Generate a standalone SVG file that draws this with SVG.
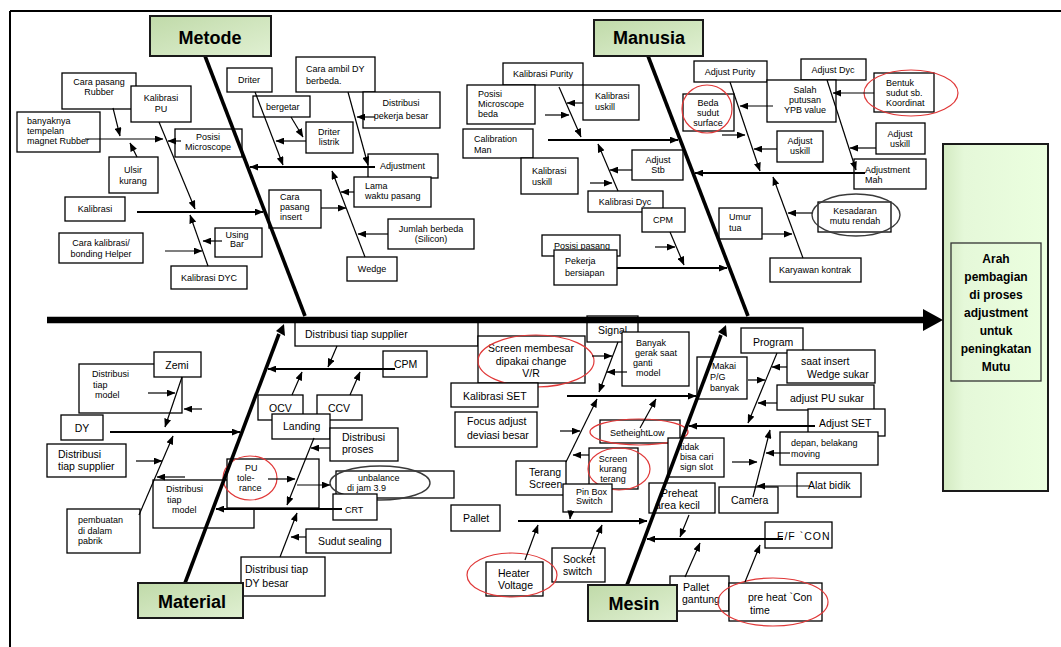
<svg xmlns="http://www.w3.org/2000/svg" width="1061" height="647" viewBox="0 0 1061 647">
<defs>
<linearGradient id="gCat" x1="0" y1="0" x2="1" y2="1">
<stop offset="0" stop-color="#c0daa9"/><stop offset="1" stop-color="#e0f0d2"/>
</linearGradient>
<linearGradient id="gRes" x1="0" y1="0" x2="1" y2="0">
<stop offset="0" stop-color="#d3eac1"/><stop offset="0.2" stop-color="#e5f8d9"/><stop offset="1" stop-color="#ebffdf"/>
</linearGradient>
<marker id="ah" viewBox="0 0 10 8" refX="9.5" refY="4" markerWidth="9" markerHeight="7" markerUnits="userSpaceOnUse" orient="auto"><path d="M0,0 L10,4 L0,8 z" fill="#000"/></marker>
<style>
.b{fill:#fff;stroke:#000;stroke-width:1.3}
.cat{fill:url(#gCat);stroke:#1a1a1a;stroke-width:2}
.t{font-family:"Liberation Sans",Arial,sans-serif;font-size:9px;fill:#000}
.m{font-size:10.5px}
.c{text-anchor:middle}
.ct{font-family:"Liberation Sans",Arial,sans-serif;font-weight:bold;font-size:18px;fill:#000;text-anchor:middle}
.rt{font-family:"Liberation Sans",Arial,sans-serif;font-weight:bold;font-size:12px;fill:#000;text-anchor:middle}
.ln{stroke:#000;stroke-width:1.2;fill:none;marker-end:url(#ah)}
.br{stroke-width:2.2}
.bone{stroke:#000;stroke-width:3.6;fill:none}
.red{fill:none;stroke:#e03838;stroke-width:1.2}
.gry{fill:none;stroke:#3a3a3a;stroke-width:1.4}
</style>
</defs>
<rect width="1061" height="647" fill="#fff"/>
<!-- frame -->
<path d="M10 11 H1061 M10 11 V647" stroke="#000" stroke-width="2" fill="none"/>

<!-- effect -->
<g id="effect">
<rect x="943" y="144" width="105" height="347" fill="url(#gRes)" stroke="#1a1a1a" stroke-width="2"/>
<rect x="951" y="243" width="90" height="138" fill="none" stroke="#333" stroke-width="1.3"/>
<text class="rt"><tspan x="996" y="263">Arah</tspan><tspan x="996" y="281">pembagian</tspan><tspan x="996" y="299">di proses</tspan><tspan x="996" y="317">adjustment</tspan><tspan x="996" y="335">untuk</tspan><tspan x="996" y="353">peningkatan</tspan><tspan x="996" y="371">Mutu</tspan></text>
</g>

<!-- Metode causes -->
<g id="m-cara-pasang-rubber"><rect class="b" x="62" y="73" width="74" height="36"/><text class="t c"><tspan x="99" y="85">Cara pasang</tspan><tspan x="99" y="95">Rubber</tspan></text></g>
<g id="m-kalibrasi-pu"><rect class="b" x="131" y="86" width="60" height="36"/><text class="t c"><tspan x="161" y="101">Kalibrasi</tspan><tspan x="161" y="112">PU</tspan></text></g>
<g id="m-banyaknya"><rect class="b" x="17" y="112" width="83" height="40"/><text class="t"><tspan x="27" y="124">banyaknya</tspan><tspan x="27" y="134">tempelan</tspan><tspan x="27" y="144">magnet Rubber</tspan></text></g>
<g id="m-posisi-microscope"><rect class="b" x="175" y="129" width="67" height="28"/><text class="t c"><tspan x="208" y="140">Posisi</tspan><tspan x="208" y="150">Microscope</tspan></text></g>
<g id="m-ulsir"><rect class="b" x="109" y="157" width="49" height="36"/><text class="t c"><tspan x="133" y="173">Ulsir</tspan><tspan x="133" y="184">kurang</tspan></text></g>
<g id="m-kalibrasi"><rect class="b" x="65" y="197" width="60" height="24"/><text class="t c" x="95" y="212">Kalibrasi</text></g>
<g id="m-cara-kalibrasi"><rect class="b" x="59" y="233" width="84" height="30"/><text class="t c"><tspan x="101" y="246">Cara kalibrasi/</tspan><tspan x="101" y="257">bonding Helper</tspan></text></g>
<g id="m-using-bar"><rect class="b" x="215" y="228" width="47" height="29"/><text class="t c" font-size="8"><tspan x="237" y="238">Using</tspan><tspan x="237" y="247">Bar</tspan></text></g>
<g id="m-kalibrasi-dyc"><rect class="b" x="171" y="266" width="76" height="23"/><text class="t c" x="209" y="281">Kalibrasi DYC</text></g>
<g id="m-driter"><rect class="b" x="227" y="68" width="45" height="24"/><text class="t c" x="249" y="83">Driter</text></g>
<g id="m-bergetar"><rect class="b" x="253" y="96" width="57" height="21"/><text class="t" x="266" y="110">bergetar</text></g>
<g id="m-cara-ambil"><rect class="b" x="296" y="57" width="79" height="35"/><text class="t"><tspan x="306" y="72">Cara ambil DY</tspan><tspan x="306" y="84">berbeda.</tspan></text></g>
<g id="m-distribusi-pekerja"><rect class="b" x="363" y="92" width="77" height="36"/><text class="t c"><tspan x="401" y="106">Distribusi</tspan><tspan x="401" y="119">pekerja besar</tspan></text></g>
<g id="m-driter-listrik"><rect class="b" x="306" y="122" width="47" height="31"/><text class="t c"><tspan x="329" y="135">Driter</tspan><tspan x="329" y="145">listrik</tspan></text></g>
<g id="m-adjustment"><rect class="b" x="368" y="154" width="70" height="24"/><text class="t" x="380" y="169" font-size="9.5">Adjustment</text></g>
<g id="m-lama"><rect class="b" x="354" y="177" width="77" height="30"/><text class="t"><tspan x="365" y="189">Lama</tspan><tspan x="365" y="199">waktu pasang</tspan></text></g>
<g id="m-cara-pasang-insert"><rect class="b" x="269" y="190" width="52" height="38"/><text class="t"><tspan x="280" y="200">Cara</tspan><tspan x="280" y="210">pasang</tspan><tspan x="280" y="220">insert</tspan></text></g>
<g id="m-jumlah"><rect class="b" x="388" y="219" width="86" height="30"/><text class="t c"><tspan x="431" y="232">Jumlah berbeda</tspan><tspan x="431" y="242">(Silicon)</tspan></text></g>
<g id="m-wedge"><rect class="b" x="347" y="257" width="50" height="24"/><text class="t c" x="372" y="272">Wedge</text></g>

<!-- Manusia causes -->
<g id="h-kalibrasi-purity"><rect class="b" x="503" y="63" width="80" height="22"/><text class="t c" x="543" y="77">Kalibrasi Purity</text></g>
<g id="h-posisi-microscope-beda"><rect class="b" x="467" y="85" width="68" height="39"/><text class="t"><tspan x="478" y="97">Posisi</tspan><tspan x="478" y="107">Microscope</tspan><tspan x="478" y="117">beda</tspan></text></g>
<g id="h-calibration-man"><rect class="b" x="463" y="129" width="70" height="29"/><text class="t" font-size="10"><tspan x="474" y="142">Calibration</tspan><tspan x="474" y="153">Man</tspan></text></g>
<g id="h-kalibrasi-uskill-1"><rect class="b" x="583" y="85" width="56" height="35"/><text class="t"><tspan x="595" y="99">Kalibrasi</tspan><tspan x="595" y="110">uskill</tspan></text></g>
<g id="h-kalibrasi-uskill-2"><rect class="b" x="521" y="158" width="57" height="36"/><text class="t"><tspan x="532" y="174">Kalibrasi</tspan><tspan x="532" y="185">uskill</tspan></text></g>
<g id="h-adjust-stb"><rect class="b" x="632" y="150" width="51" height="30"/><text class="t c"><tspan x="658" y="163">Adjust</tspan><tspan x="658" y="173">Stb</tspan></text></g>
<g id="h-kalibrasi-dyc"><rect class="b" x="588" y="191" width="75" height="21"/><text class="t c" x="625" y="205">Kalibrasi Dyc</text></g>
<g id="h-cpm"><rect class="b" x="642" y="208" width="43" height="24"/><text class="t c" x="663" y="223">CPM</text></g>
<g id="h-umur-tua"><rect class="b" x="719" y="208" width="43" height="31"/><text class="t"><tspan x="729" y="220">Umur</tspan><tspan x="729" y="231">tua</tspan></text></g>
<g id="h-adjust-purity"><rect class="b" x="694" y="61" width="73" height="21"/><text class="t c" x="730" y="75">Adjust Purity</text></g>
<g id="h-beda-sudut"><rect class="b" x="683" y="94" width="51" height="37"/><text class="t c" font-size="8.5"><tspan x="708" y="106">Beda</tspan><tspan x="708" y="116">sudut</tspan><tspan x="708" y="126">surface</tspan></text><ellipse class="red" cx="707" cy="109" rx="25" ry="24"/></g>
<g id="h-adjust-dyc"><rect class="b" x="801" y="59" width="65" height="21"/><text class="t c" x="833" y="73">Adjust Dyc</text></g>
<g id="h-salah-putusan"><rect class="b" x="767" y="80" width="69" height="42"/><text class="t c"><tspan x="805" y="93">Salah</tspan><tspan x="805" y="103">putusan</tspan><tspan x="805" y="113">YPB value</tspan></text></g>
<g id="h-bentuk"><rect class="b" x="874" y="73" width="60" height="39"/><text class="t"><tspan x="886" y="86">Bentuk</tspan><tspan x="886" y="96">sudut sb.</tspan><tspan x="886" y="106">Koordinat</tspan></text><ellipse class="red" cx="911" cy="93" rx="47" ry="23"/></g>
<g id="h-adjust-uskill-r"><rect class="b" x="876" y="123" width="49" height="31"/><text class="t c"><tspan x="900" y="137">Adjust</tspan><tspan x="900" y="147">uskill</tspan></text></g>
<g id="h-adjust-uskill-m"><rect class="b" x="777" y="131" width="46" height="31"/><text class="t c"><tspan x="800" y="144">Adjust</tspan><tspan x="800" y="154">uskill</tspan></text></g>
<g id="h-adjustment-mah"><rect class="b" x="854" y="159" width="72" height="30"/><text class="t"><tspan x="865" y="173">Adjustment</tspan><tspan x="865" y="183">Mah</tspan></text></g>
<g id="h-kesadaran"><rect class="b" x="818" y="202" width="73" height="30"/><ellipse class="gry" cx="856" cy="215" rx="44" ry="21"/><text class="t c" font-size="8.5"><tspan x="855" y="214">Kesadaran</tspan><tspan x="855" y="224">mutu rendah</tspan></text></g>
<g id="h-karyawan"><rect class="b" x="770" y="258" width="91" height="24"/><text class="t c" x="815" y="273">Karyawan kontrak</text></g>
<g id="h-posisi-pasang"><rect class="b" x="542" y="235" width="78" height="21"/><text class="t" x="554" y="249">Posisi pasang</text></g>
<g id="h-pekerja"><rect class="b" x="554" y="250" width="63" height="35"/><text class="t"><tspan x="565" y="264">Pekerja</tspan><tspan x="565" y="276">bersiapan</tspan></text></g>

<!-- Material causes -->
<g id="t-distribusi-supplier"><rect class="b" x="295" y="321" width="183" height="25"/><text class="t m" x="305" y="338">Distribusi tiap supplier</text></g>
<g id="t-cpm"><rect class="b" x="383" y="351" width="44" height="26"/><text class="t m" x="394" y="368">CPM</text></g>
<g id="t-ocv"><rect class="b" x="258" y="395" width="45" height="25"/><text class="t m" x="269" y="412">OCV</text></g>
<g id="t-ccv"><rect class="b" x="317" y="395" width="45" height="25"/><text class="t m c" x="339" y="412">CCV</text></g>
<g id="t-landing"><rect class="b" x="272" y="414" width="58" height="25"/><text class="t m" x="283" y="430">Landing</text></g>
<g id="t-distribusi-proses"><rect class="b" x="330" y="428" width="68" height="33"/><text class="t m"><tspan x="342" y="441">Distribusi</tspan><tspan x="342" y="453">proses</tspan></text></g>
<g id="t-distribusi-model-1"><rect class="b" x="79" y="364" width="103" height="49"/><text class="t" font-size="10"><tspan x="92" y="377">Distribusi</tspan><tspan x="93" y="387.5">tiap</tspan><tspan x="95" y="398">model</tspan></text></g>
<g id="t-zemi"><rect class="b" x="154" y="352" width="47" height="25"/><text class="t m c" x="177" y="369">Zemi</text></g>
<g id="t-dy"><rect class="b" x="61" y="415" width="42" height="25"/><text class="t m c" x="82" y="432">DY</text></g>
<g id="t-distribusi-supplier-2"><rect class="b" x="47" y="444" width="79" height="33"/><text class="t m"><tspan x="58" y="458">Distribusi</tspan><tspan x="58" y="470">tiap supplier</tspan></text></g>
<g id="t-pembuatan"><rect class="b" x="67" y="509" width="73" height="44"/><text class="t" font-size="10"><tspan x="78" y="523">pembuatan</tspan><tspan x="78" y="533.5">di dalam</tspan><tspan x="78" y="544">pabrik</tspan></text></g>
<g id="t-distribusi-model-2"><rect class="b" x="153" y="480" width="101" height="48"/><text class="t" font-size="10"><tspan x="166" y="492">Distribusi</tspan><tspan x="167" y="502.5">tiap</tspan><tspan x="172" y="513">model</tspan></text></g>
<g id="t-pu-tolerance"><rect class="b" x="227" y="459" width="92" height="49"/><text class="t" font-size="10"><tspan x="245" y="471">PU</tspan><tspan x="237" y="481">tole-</tspan><tspan x="239" y="491">rance</tspan></text><ellipse class="red" cx="250" cy="478" rx="27" ry="22"/></g>
<g id="t-unbalance"><rect class="b" x="336" y="471" width="118" height="27"/><ellipse class="gry" cx="380" cy="483" rx="50" ry="17"/><text class="t" font-size="10"><tspan x="358" y="481">unbalance</tspan><tspan x="347" y="491">di jam  3.9</tspan></text></g>
<g id="t-crt"><rect class="b" x="333" y="494" width="44" height="26"/><text class="t" font-size="12" x="345" y="513">CRT</text></g>
<g id="t-sudut-sealing"><rect class="b" x="306" y="529" width="85" height="24"/><text class="t m" x="318" y="545">Sudut sealing</text></g>
<g id="t-distribusi-dy-besar"><rect class="b" x="241" y="557" width="84" height="39"/><text class="t m"><tspan x="245" y="573">Distribusi tiap</tspan><tspan x="245" y="587">DY besar</tspan></text></g>

<!-- Mesin causes -->
<g id="s-screen-membesar"><rect class="b" x="478" y="336" width="107" height="47"/><text class="t m c"><tspan x="531" y="352">Screen membesar</tspan><tspan x="531" y="364.5">dipakai change</tspan><tspan x="531" y="377">V/R</tspan></text><ellipse class="red" cx="536" cy="361" rx="58" ry="26"/></g>
<g id="s-signal"><rect class="b" x="587" y="316" width="51" height="26"/><text class="t m" x="598" y="334">Signal</text></g>
<g id="s-banyak"><rect class="b" x="622" y="332" width="67" height="54"/><text class="t"><tspan x="636" y="346">Banyak</tspan><tspan x="635" y="356">gerak saat</tspan><tspan x="633" y="366">ganti</tspan><tspan x="636" y="376">model</tspan></text></g>
<g id="s-kalibrasi-set"><rect class="b" x="451" y="383" width="87" height="24"/><text class="t m" x="463" y="400">Kalibrasi SET</text></g>
<g id="s-focus"><rect class="b" x="455" y="412" width="82" height="35"/><text class="t m"><tspan x="467" y="425">Focus adjust</tspan><tspan x="467" y="439">deviasi besar</tspan></text></g>
<g id="s-setheight"><rect class="b" x="600" y="420" width="80" height="23"/><text class="t" x="610" y="436">SetheightLow</text><ellipse class="red" cx="639" cy="432" rx="49" ry="13"/></g>
<g id="s-tidak"><rect class="b" x="668" y="438" width="56" height="39"/><text class="t"><tspan x="680" y="450">tidak</tspan><tspan x="680" y="460">bisa cari</tspan><tspan x="680" y="470">sign slot</tspan></text></g>
<g id="s-terang"><rect class="b" x="516" y="461" width="50" height="34"/><text class="t m"><tspan x="529" y="476">Terang</tspan><tspan x="529" y="488">Screen</tspan></text></g>
<g id="s-screen-kurang"><rect class="b" x="589" y="448" width="49" height="41"/><text class="t c" font-size="8"><tspan x="613" y="462">Screen</tspan><tspan x="613" y="472">kurang</tspan><tspan x="613" y="482">terang</tspan></text><ellipse class="red" cx="619" cy="469" rx="31" ry="21"/></g>
<g id="s-pin-box"><rect class="b" x="563" y="484" width="49" height="28"/><text class="t" font-size="8"><tspan x="576" y="495">Pin Box</tspan><tspan x="576" y="504">Switch</tspan></text></g>
<g id="s-preheat"><rect class="b" x="649" y="483" width="66" height="30"/><text class="t m"><tspan x="661" y="497">Preheat</tspan><tspan x="655" y="509">area kecil</tspan></text></g>
<g id="s-camera"><rect class="b" x="719" y="487" width="59" height="26"/><text class="t m" x="731" y="504">Camera</text></g>
<g id="s-pallet"><rect class="b" x="451" y="505" width="49" height="26"/><text class="t m" x="463" y="522">Pallet</text></g>
<g id="s-socket"><rect class="b" x="552" y="548" width="53" height="34"/><text class="t m"><tspan x="563" y="563">Socket</tspan><tspan x="563" y="575">switch</tspan></text></g>
<g id="s-heater"><rect class="b" x="486" y="562" width="57" height="34"/><text class="t m"><tspan x="498" y="577">Heater</tspan><tspan x="498" y="589">Voltage</tspan></text><ellipse class="red" cx="512" cy="575" rx="45" ry="22"/></g>
<g id="s-pallet-gantung"><rect class="b" x="670" y="576" width="59" height="35"/><text class="t m"><tspan x="683" y="591">Pallet</tspan><tspan x="682" y="603">gantung</tspan></text></g>
<g id="s-pre-heat-con"><rect class="b" x="729" y="583" width="93" height="38"/><text class="t m"><tspan x="748" y="601">pre heat `Con</tspan><tspan x="750" y="614">time</tspan></text><ellipse class="red" cx="773" cy="602" rx="55" ry="24"/></g>
<g id="s-ff-con"><rect class="b" x="765" y="522" width="67" height="26"/><text class="t m" x="777" y="540" letter-spacing="1">F/F `CON</text></g>
<g id="s-program"><rect class="b" x="741" y="328" width="62" height="25"/><text class="t m" x="753" y="346">Program</text></g>
<g id="s-makai"><rect class="b" x="697" y="357" width="50" height="42"/><text class="t" font-size="10"><tspan x="712" y="369">Makai</tspan><tspan x="710" y="380">P/G</tspan><tspan x="710" y="391">banyak</tspan></text></g>
<g id="s-saat-insert"><rect class="b" x="787" y="350" width="88" height="33"/><text class="t m"><tspan x="801" y="365">saat insert</tspan><tspan x="807" y="377.5">Wedge sukar</tspan></text></g>
<g id="s-adjust-pu"><rect class="b" x="777" y="385" width="97" height="25"/><text class="t m" x="790" y="402">adjust PU sukar</text></g>
<g id="s-adjust-set"><rect class="b" x="808" y="409" width="77" height="27"/><text class="t m" x="819" y="427">Adjust SET</text></g>
<g id="s-depan"><rect class="b" x="780" y="432" width="98" height="33"/><text class="t" font-size="10"><tspan x="791" y="446">depan, belakang</tspan><tspan x="791" y="457">moving</tspan></text></g>
<g id="s-alat-bidik"><rect class="b" x="797" y="473" width="64" height="24"/><text class="t m" x="808" y="489">Alat bidik</text></g>

<!-- spine and category bones -->
<g id="spine">
<path d="M47 320 H925" stroke="#000" stroke-width="6.5"/>
<polygon points="923,309 943,320 923,331" fill="#000"/>
<path class="bone" d="M205 56 L305 316"/>
<path class="bone" d="M648 56 L748 316"/>
<path class="bone" d="M185 583 L279 334"/>
<polygon points="276,331 284,324 285,336" fill="#000"/>
<path class="bone" d="M627 585 L721 335"/>
<polygon points="718,332 726,325 727,337" fill="#000"/>
</g>

<!-- categories -->
<g id="cat-metode"><rect class="cat" x="150" y="16" width="121" height="40"/><text class="ct" x="210" y="44" font-size="20">Metode</text></g>
<g id="cat-manusia"><rect class="cat" x="594" y="20" width="109" height="36"/><text class="ct" x="649" y="44">Manusia</text></g>
<g id="cat-material"><rect class="cat" x="138" y="583" width="105" height="35"/><text class="ct" x="192" y="608">Material</text></g>
<g id="cat-mesin"><rect class="cat" x="588" y="585" width="89" height="36"/><text class="ct" x="634" y="610">Mesin</text></g>

<!-- connectors -->
<g id="connectors">
<!-- Metode -->
<path class="ln br" d="M375 167 H250"/>
<path class="ln" d="M255 92 L283 165"/>
<path class="ln" d="M291 117 L303 137"/>
<path class="ln" d="M306 141 H276"/>
<path class="ln" d="M348 92 L368 165"/>
<path class="ln" d="M375 117 H357"/>
<path class="ln" d="M365 257 L332 171"/>
<path class="ln" d="M354 192 H341"/>
<path class="ln" d="M388 234 H358"/>
<path class="ln" d="M321 208 H346"/>
<path class="ln br" d="M137 212 H263"/>
<path class="ln" d="M159 122 L195 209"/>
<path class="ln" d="M85 139 H163"/>
<path class="ln" d="M181 141 H168"/>
<path class="ln" d="M113 108 L120 136"/>
<path class="ln" d="M137 157 L130 143"/>
<path class="ln" d="M208 266 L190 215"/>
<path class="ln" d="M165 251 H202"/>
<path class="ln" d="M222 241 H203"/>
<!-- Manusia -->
<path class="ln" d="M559 87 L581 137"/>
<path class="ln br" d="M548 140 H678"/>
<path class="ln" d="M583 103 H567"/>
<path class="ln" d="M545 115 H569"/>
<path class="ln" d="M618 191 L598 144"/>
<path class="ln" d="M590 183 H612"/>
<path class="ln" d="M632 170 H610"/>
<path class="ln" d="M730 82 L760 171"/>
<path class="ln br" d="M865 173 H695"/>
<path class="ln" d="M722 135 H745"/>
<path class="ln" d="M773 106 H740"/>
<path class="ln" d="M777 149 H754"/>
<path class="ln" d="M827 80 L856 170"/>
<path class="ln" d="M874 93 H833"/>
<path class="ln" d="M876 148 H850"/>
<path class="ln" d="M803 258 L773 177"/>
<path class="ln" d="M812 213 H788"/>
<path class="ln" d="M762 234 H792"/>
<path class="ln br" d="M617 268 H727"/>
<path class="ln" d="M670 232 L684 265"/>
<path class="ln" d="M655 247 H675"/>
<!-- Material -->
<path class="ln br" d="M395 369 H268"/>
<path class="ln" d="M337 346 L328 367"/>
<path class="ln" d="M292 395 L302 372"/>
<path class="ln" d="M350 395 L360 372"/>
<path class="ln br" d="M342 509 H216"/>
<path class="ln" d="M314 438 L287 505"/>
<path class="ln" d="M330 448 H311"/>
<path class="ln" d="M268 479 H295"/>
<path class="ln" d="M297 485 H330"/>
<path class="ln" d="M280 557 L297 513"/>
<path class="ln" d="M306 537 H291"/>
<path class="ln br" d="M110 432 H240"/>
<path class="ln" d="M182 377 L165 427"/>
<path class="ln" d="M148 393 H175"/>
<path class="ln" d="M202 409 H184"/>
<path class="ln" d="M139 515 L173 436"/>
<path class="ln" d="M185 477 H157"/>
<path class="ln" d="M136 461 H162"/>
<!-- Mesin -->
<path class="ln br" d="M567 396 H696"/>
<path class="ln" d="M618 342 L599 392"/>
<path class="ln" d="M627 372 H607"/>
<path class="ln" d="M592 356 H612"/>
<path class="ln" d="M640 428 L656 399"/>
<path class="ln" d="M566 462 L597 399"/>
<path class="ln" d="M560 431 H580"/>
<path class="ln br" d="M518 521 H647"/>
<path class="ln" d="M571 510 L570 519"/>
<path class="ln" d="M525 560 L538 525"/>
<path class="ln" d="M590 555 L602 525"/>
<path class="ln" d="M589 455 H573"/>
<path class="ln br" d="M783 539 H647"/>
<path class="ln" d="M689 515 L680 537"/>
<path class="ln" d="M685 577 L700 543"/>
<path class="ln" d="M745 582 L760 545"/>
<path class="ln br" d="M815 426 H689"/>
<path class="ln" d="M777 353 L748 423"/>
<path class="ln" d="M748 380 H765"/>
<path class="ln" d="M787 367 H772"/>
<path class="ln" d="M777 403 H758"/>
<path class="ln" d="M753 497 L770 430"/>
<path class="ln" d="M790 453 H766"/>
<path class="ln" d="M732 462 H757"/>
<path class="ln" d="M810 486 H757"/>
</g>
</svg>
